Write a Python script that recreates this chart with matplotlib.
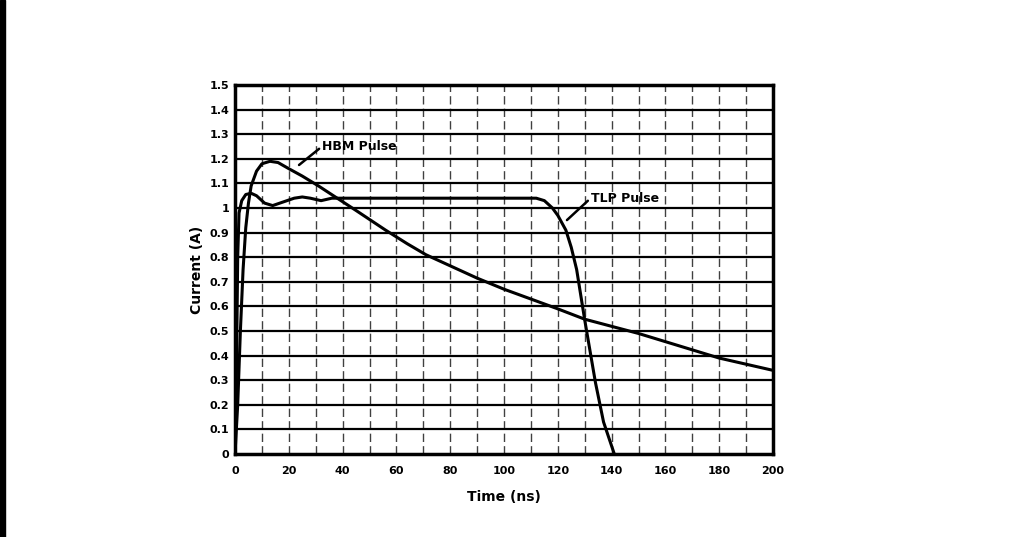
import matplotlib.pyplot as plt
from matplotlib.patches import Rectangle

# values
hbm_time = [0, 1, 2, 3, 4, 5, 6, 8, 10, 13, 16, 20, 25, 31, 38, 45, 56, 64, 71, 82,
            90, 100, 110, 120, 130, 150, 165, 180, 200]
hbm_current = [0, 0.2, 0.5, 0.75, 0.92, 1.02, 1.09, 1.15, 1.18, 1.19, 1.185, 1.16,
               1.13, 1.09, 1.04, 0.99, 0.91, 0.855, 0.81, 0.755, 0.715, 0.67, 0.63,
               0.59, 0.548, 0.49, 0.44, 0.39, 0.34]

tlp_time = [0, 0.5, 1, 1.5, 2.5, 4, 6, 8, 11, 14, 18, 22, 25, 28, 32, 36, 50, 80,
            100, 112, 115, 118, 120, 123, 125, 127, 130, 134, 137, 141]
tlp_current = [0, 0.3, 0.8, 0.98, 1.03, 1.055, 1.06, 1.05, 1.02, 1.01, 1.025, 1.04,
               1.045, 1.04, 1.03, 1.04, 1.04, 1.04, 1.04, 1.04, 1.03, 1.0, 0.97,
               0.91, 0.84, 0.75, 0.545, 0.29, 0.13, 0]

x_ticks = list(range(0, 201, 20))
y_ticks = [0, 0.1, 0.2, 0.3, 0.4, 0.5, 0.6, 0.7, 0.8, 0.9, 1, 1.1, 1.2, 1.3, 1.4, 1.5]
y_labels = ['0', '0.1', '0.2', '0.3', '0.4', '0.5', '0.6', '0.7', '0.8', '0.9',
            '1', '1.1', '1.2', '1.3', '1.4', '1.5']

fig = plt.figure(figsize=(10.24, 5.37), dpi=100)
ax = fig.add_axes([0.2295, 0.1546, 0.5254, 0.687])

# scanner edge on the left
fig.patches.append(Rectangle((0, 0), 0.005, 1, transform=fig.transFigure,
                             color='black', zorder=0))

# grid: solid horizontals, broken verticals every 10 ns
for y in y_ticks[1:-1]:
    ax.axhline(y, color='black', lw=1.6, zorder=1)
for x in range(10, 200, 10):
    ax.axvline(x, color='black', lw=1.0, ls=(0, (6, 3)), alpha=0.75, zorder=1)

ax.plot(hbm_time, hbm_current, color='black', lw=2.2, zorder=3)
ax.plot(tlp_time, tlp_current, color='black', lw=2.2, zorder=3)

leader = dict(arrowstyle='-', color='black', lw=1.8, shrinkA=0, shrinkB=0,
              relpos=(0, 0.5))
ax.annotate('HBM Pulse', xy=(23.8, 1.175), xytext=(32.3, 1.25),
            fontsize=9, fontweight='bold', ha='left', va='center',
            arrowprops=leader)
ax.annotate('TLP Pulse', xy=(123.4, 0.951), xytext=(132.2, 1.04),
            fontsize=9, fontweight='bold', ha='left', va='center',
            arrowprops=leader)

ax.set_xlim(0, 200)
ax.set_ylim(0, 1.5)
ax.set_xticks(x_ticks)
ax.set_xticklabels([str(t) for t in x_ticks], fontsize=8, fontweight='bold')
ax.set_yticks(y_ticks)
ax.set_yticklabels(y_labels, fontsize=8, fontweight='bold')
ax.tick_params(axis='x', length=0, pad=9)
ax.tick_params(axis='y', length=0, pad=4)
for side in ax.spines.values():
    side.set_linewidth(2.5)

ax.set_xlabel('Time (ns)', fontsize=10, fontweight='bold', labelpad=10)
ax.set_ylabel('Current (A)', fontsize=10, fontweight='bold', labelpad=4)

fig.savefig('out.png', dpi=100)
